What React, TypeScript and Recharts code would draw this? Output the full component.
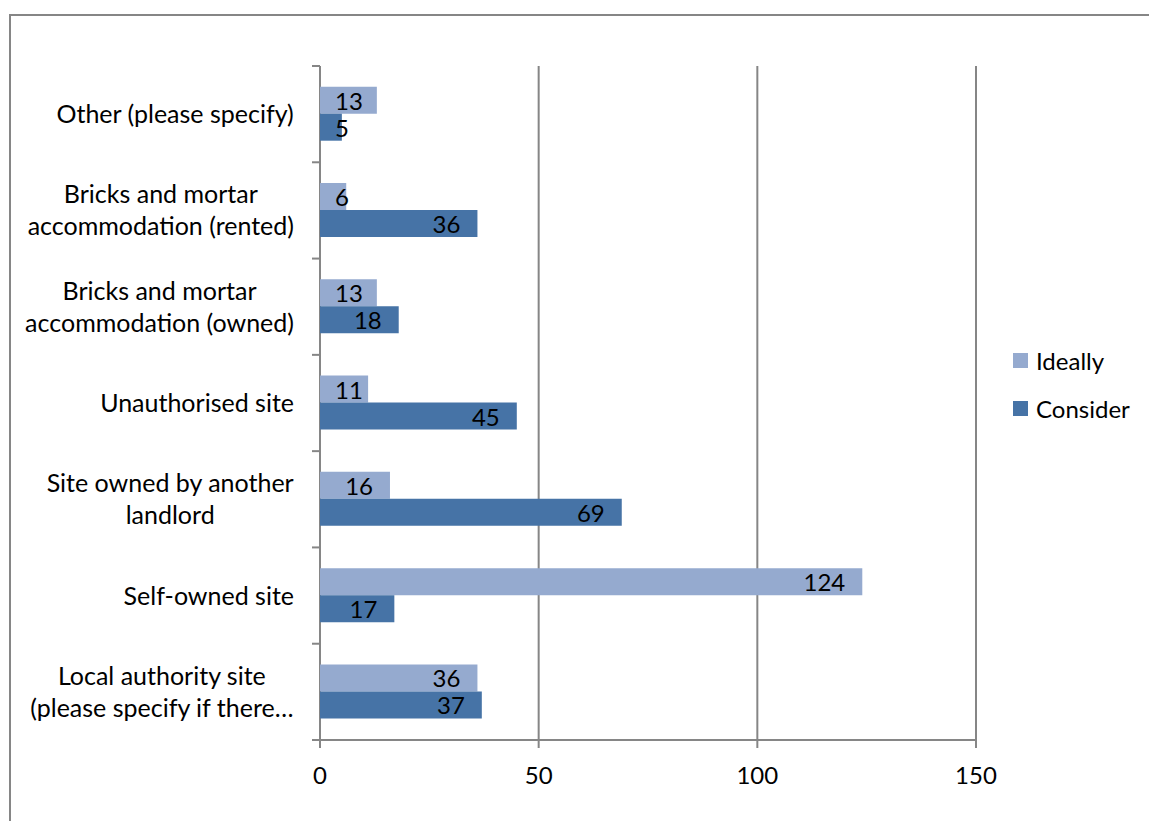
import React from 'react';
import {
  BarChart,
  Bar,
  XAxis,
  YAxis,
  CartesianGrid,
  LabelList,
} from 'recharts';

// Categories listed top to bottom, each label split into its display lines
const categories = [
  ['Other (please specify)'],
  ['Bricks and mortar', 'accommodation (rented)'],
  ['Bricks and mortar', 'accommodation (owned)'],
  ['Unauthorised site'],
  ['Site owned by another', 'landlord'],
  ['Self-owned site'],
  ['Local authority site', '(please specify if there\u2026'],
];

const ideally = [13, 6, 13, 11, 16, 124, 36];
const consider = [5, 36, 18, 45, 69, 17, 37];

const xTicks = [0, 50, 100, 150];

const series = [
  { key: 'Ideally', color: '#95aacf' },
  { key: 'Consider', color: '#4673a6' },
];

const data = categories.map((lines, i) => ({
  name: lines.join('\n'),
  Ideally: ideally[i],
  Consider: consider[i],
}));

const FONT = 'Lato, "DejaVu Sans", sans-serif';
const FONT_SIZE = 24;
const CAT_FONT_SIZE = 25;
const LINE_HEIGHT = 32;
const GRID = '#868686';
const LABEL_GAP = 26;
const TICK_LEN = 8;

let ctx: CanvasRenderingContext2D | null = null;
const measure = (text: string, size: number) => {
  if (!ctx) ctx = document.createElement('canvas').getContext('2d');
  if (!ctx) return text.length * size * 0.5;
  ctx.font = `${size}px Lato`;
  return ctx.measureText(text).width;
};

// Right-aligned label block, lines centred against the widest one.
// Tick marks sit on the band edges rather than the band centre.
const CategoryTick = (props: any) => {
  const { x, y, payload, index, visibleTicksCount } = props;
  const lines: string[] = String(payload.value).split('\n');
  const maxW = Math.max(...lines.map((l) => measure(l, CAT_FONT_SIZE)));
  const cx = x - maxW / 2;
  const top = y - 1 - ((lines.length - 1) * LINE_HEIGHT) / 2;
  const half = payload.offset ?? 0;
  const axisX = x + LABEL_GAP;
  const edges = [y - half];
  if (index === visibleTicksCount - 1) edges.push(y + half);
  return (
    <g>
      {edges.map((ey, i) => (
        <line
          key={`e${i}`}
          x1={axisX - TICK_LEN}
          x2={axisX}
          y1={ey}
          y2={ey}
          stroke={GRID}
          strokeWidth={2}
        />
      ))}
      {lines.map((line, i) => (
        <text
          key={i}
          x={cx}
          y={top + i * LINE_HEIGHT}
          textAnchor="middle"
          dominantBaseline="central"
          fontFamily={FONT}
          fontSize={CAT_FONT_SIZE}
          fill="#000"
        >
          {line}
        </text>
      ))}
    </g>
  );
};

// Value drawn inside the bar end, pushed right when the bar is too short
const ValueLabel = (props: any) => {
  const { x, y, width, height, value } = props;
  const w = measure(String(value), FONT_SIZE);
  const end = Math.max(x + width - 17, x + 15 + w);
  return (
    <text
      x={end}
      y={y + height / 2}
      textAnchor="end"
      dominantBaseline="central"
      fontFamily={FONT}
      fontSize={FONT_SIZE}
      fill="#000"
    >
      {value}
    </text>
  );
};

export default function App() {
  return (
    <div
      style={{
        position: 'absolute',
        left: 0,
        top: 0,
        width: 1149,
        height: 821,
        overflow: 'hidden',
        background: '#fff',
      }}
    >
      <div
        style={{
          position: 'absolute',
          left: 9,
          top: 14,
          width: 1300,
          height: 1000,
          borderTop: `2px solid ${GRID}`,
          borderLeft: `2px solid ${GRID}`,
        }}
      />
      <div style={{ position: 'absolute', left: 0, top: 0 }}>
        <BarChart
          width={1149}
          height={821}
          data={data}
          layout="vertical"
          margin={{ top: 66, right: 173, bottom: 41, left: 0 }}
          barCategoryGap="21.5%"
          barGap={0}
        >
          <CartesianGrid horizontal={false} stroke={GRID} strokeWidth={2} />
          <XAxis
            type="number"
            domain={[0, 150]}
            ticks={xTicks}
            height={40}
            stroke={GRID}
            strokeWidth={2}
            tickSize={TICK_LEN}
            tickMargin={19}
            tick={{ fill: '#000', fontFamily: FONT, fontSize: FONT_SIZE }}
          />
          <YAxis
            type="category"
            dataKey="name"
            width={320}
            axisLine={false}
            tickLine={false}
            tickSize={0}
            tickMargin={LABEL_GAP}
            interval={0}
            tick={<CategoryTick />}
          />
          {series.map((s) => (
            <Bar
              key={s.key}
              dataKey={s.key}
              fill={s.color}
              isAnimationActive={false}
            >
              <LabelList dataKey={s.key} content={<ValueLabel />} />
            </Bar>
          ))}
        </BarChart>
      </div>
      <div
        style={{
          position: 'absolute',
          left: 1013,
          top: 336,
          fontFamily: FONT,
          fontSize: FONT_SIZE,
          color: '#000',
        }}
      >
        {series.map((s) => (
          <div
            key={s.key}
            style={{ display: 'flex', alignItems: 'center', height: 48 }}
          >
            <span
              style={{
                width: 15,
                height: 15,
                background: s.color,
                marginRight: 8,
                display: 'inline-block',
              }}
            />
            <span>{s.key}</span>
          </div>
        ))}
      </div>
    </div>
  );
}
